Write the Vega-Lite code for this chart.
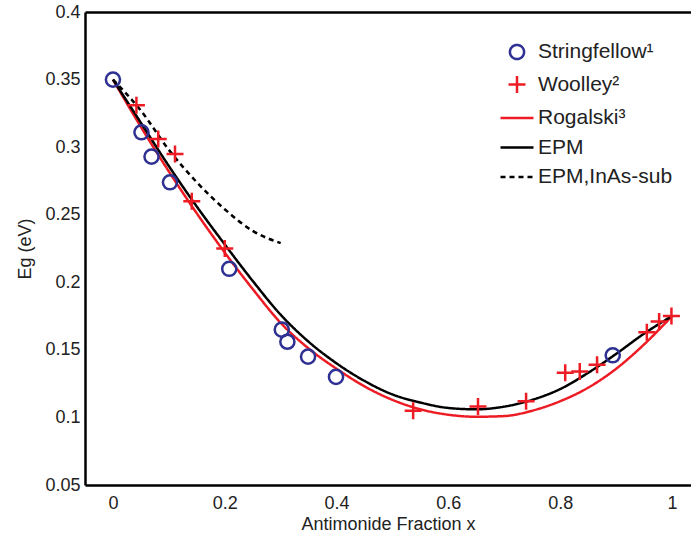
{
  "$schema": "https://vega.github.io/schema/vega-lite/v6.json",
  "width": 606,
  "height": 473,
  "autosize": {"type": "none"},
  "padding": {"left": 85, "top": 12, "right": 0, "bottom": 52},
  "background": "white",
  "config": {
    "view": {"stroke": null},
    "font": "Liberation Sans",
    "axis": {"grid": false, "domainColor": "black", "domainWidth": 2.5, "tickColor": "black", "tickWidth": 2, "tickSize": 0, "labelFont": "Liberation Sans", "labelFontSize": 18, "labelColor": "#222", "titleFont": "Liberation Sans", "titleFontSize": 18, "titleFontWeight": "normal", "titleColor": "#222", "labelOverlap": false, "labelBound": false}
  },
  "datasets": {
    "pts": [
      {"series": "Stringfellow¹", "x": 0, "y": 0.35},
      {"series": "Stringfellow¹", "x": 0.051, "y": 0.311},
      {"series": "Stringfellow¹", "x": 0.069, "y": 0.293},
      {"series": "Stringfellow¹", "x": 0.102, "y": 0.274},
      {"series": "Stringfellow¹", "x": 0.208, "y": 0.21},
      {"series": "Stringfellow¹", "x": 0.302, "y": 0.165},
      {"series": "Stringfellow¹", "x": 0.312, "y": 0.156},
      {"series": "Stringfellow¹", "x": 0.349, "y": 0.145},
      {"series": "Stringfellow¹", "x": 0.399, "y": 0.13},
      {"series": "Stringfellow¹", "x": 0.894, "y": 0.146},
      {"series": "Woolley²", "x": 0.042, "y": 0.331},
      {"series": "Woolley²", "x": 0.081, "y": 0.306},
      {"series": "Woolley²", "x": 0.111, "y": 0.295},
      {"series": "Woolley²", "x": 0.141, "y": 0.26},
      {"series": "Woolley²", "x": 0.2, "y": 0.225},
      {"series": "Woolley²", "x": 0.537, "y": 0.105},
      {"series": "Woolley²", "x": 0.653, "y": 0.108},
      {"series": "Woolley²", "x": 0.739, "y": 0.112},
      {"series": "Woolley²", "x": 0.809, "y": 0.133},
      {"series": "Woolley²", "x": 0.835, "y": 0.134},
      {"series": "Woolley²", "x": 0.866, "y": 0.139},
      {"series": "Woolley²", "x": 0.955, "y": 0.163},
      {"series": "Woolley²", "x": 0.977, "y": 0.171},
      {"series": "Woolley²", "x": 0.999, "y": 0.175}
    ],
    "curves": [
      {"series": "Rogalski³", "x": 0, "y": 0.35},
      {"series": "Rogalski³", "x": 0.05, "y": 0.315},
      {"series": "Rogalski³", "x": 0.1, "y": 0.282},
      {"series": "Rogalski³", "x": 0.15, "y": 0.251},
      {"series": "Rogalski³", "x": 0.2, "y": 0.222},
      {"series": "Rogalski³", "x": 0.25, "y": 0.195},
      {"series": "Rogalski³", "x": 0.3, "y": 0.17},
      {"series": "Rogalski³", "x": 0.35, "y": 0.151},
      {"series": "Rogalski³", "x": 0.4, "y": 0.136},
      {"series": "Rogalski³", "x": 0.45, "y": 0.123},
      {"series": "Rogalski³", "x": 0.5, "y": 0.113},
      {"series": "Rogalski³", "x": 0.55, "y": 0.106},
      {"series": "Rogalski³", "x": 0.6, "y": 0.102},
      {"series": "Rogalski³", "x": 0.65, "y": 0.1005},
      {"series": "Rogalski³", "x": 0.7, "y": 0.101},
      {"series": "Rogalski³", "x": 0.75, "y": 0.105},
      {"series": "Rogalski³", "x": 0.8, "y": 0.112},
      {"series": "Rogalski³", "x": 0.85, "y": 0.122},
      {"series": "Rogalski³", "x": 0.9, "y": 0.136},
      {"series": "Rogalski³", "x": 0.95, "y": 0.154},
      {"series": "Rogalski³", "x": 1.0, "y": 0.175},
      {"series": "EPM", "x": 0, "y": 0.35},
      {"series": "EPM", "x": 0.05, "y": 0.318},
      {"series": "EPM", "x": 0.1, "y": 0.286},
      {"series": "EPM", "x": 0.15, "y": 0.256},
      {"series": "EPM", "x": 0.2, "y": 0.228},
      {"series": "EPM", "x": 0.25, "y": 0.201},
      {"series": "EPM", "x": 0.3, "y": 0.176},
      {"series": "EPM", "x": 0.35, "y": 0.156},
      {"series": "EPM", "x": 0.4, "y": 0.14},
      {"series": "EPM", "x": 0.45, "y": 0.127},
      {"series": "EPM", "x": 0.5, "y": 0.117},
      {"series": "EPM", "x": 0.55, "y": 0.111},
      {"series": "EPM", "x": 0.6, "y": 0.107},
      {"series": "EPM", "x": 0.65, "y": 0.106},
      {"series": "EPM", "x": 0.7, "y": 0.108},
      {"series": "EPM", "x": 0.75, "y": 0.113},
      {"series": "EPM", "x": 0.8, "y": 0.121},
      {"series": "EPM", "x": 0.85, "y": 0.133},
      {"series": "EPM", "x": 0.9, "y": 0.147},
      {"series": "EPM", "x": 0.95, "y": 0.162},
      {"series": "EPM", "x": 1.0, "y": 0.175},
      {"series": "EPM,InAs-sub", "x": 0, "y": 0.35},
      {"series": "EPM,InAs-sub", "x": 0.05, "y": 0.327},
      {"series": "EPM,InAs-sub", "x": 0.1, "y": 0.298},
      {"series": "EPM,InAs-sub", "x": 0.15, "y": 0.274},
      {"series": "EPM,InAs-sub", "x": 0.2, "y": 0.254},
      {"series": "EPM,InAs-sub", "x": 0.25, "y": 0.238},
      {"series": "EPM,InAs-sub", "x": 0.3, "y": 0.229}
    ]
  },
  "encoding": {
    "x": {"field": "x", "type": "quantitative", "scale": {"domain": [-0.05, 1.034], "nice": false, "zero": false},
      "axis": {"orient": "bottom", "title": "Antimonide Fraction x", "values": [-0.04,0,0.04,0.08,0.12,0.16,0.2,0.24,0.28,0.32,0.36,0.4,0.44,0.48,0.52,0.56,0.6,0.64,0.68,0.72,0.76,0.8,0.84,0.88,0.92,0.96,1.0],
        "labelExpr": "round(datum.value*100)%20==0 ? format(datum.value,'~g') : ''",
        "labelPadding": 9, "titlePadding": 3,
        "encode": {"ticks": {"update": {"y2": {"signal": "round(datum.value*100)%20==0 ? -7 : -4"}}}}}},
    "y": {"field": "y", "type": "quantitative", "scale": {"domain": [0.05, 0.4], "nice": false, "zero": false},
      "axis": {"title": "Eg (eV)", "values": [0.05,0.06,0.07,0.08,0.09,0.1,0.11,0.12,0.13,0.14,0.15,0.16,0.17,0.18,0.19,0.2,0.21,0.22,0.23,0.24,0.25,0.26,0.27,0.28,0.29,0.3,0.31,0.32,0.33,0.34,0.35,0.36,0.37,0.38,0.39,0.4],
        "labelExpr": "round(datum.value*100)%5==0 ? format(datum.value,'.2~f') : ''",
        "labelPadding": 5, "titlePadding": 10,
        "encode": {"ticks": {"update": {"x2": {"signal": "round(datum.value*100)%5==0 ? 7 : 4"}}}}}},
    "color": {"field": "series", "type": "nominal",
      "scale": {"domain": ["Stringfellow¹", "Woolley²", "Rogalski³", "EPM", "EPM,InAs-sub"], "range": ["#2e3192", "#ed1c24", "#ed1c24", "#000000", "#000000"]},
      "legend": {"orient": "none", "legendX": 414, "legendY": 22, "title": null, "labelFontSize": 21, "labelFont": "Liberation Sans", "labelColor": "#222", "symbolStrokeWidth": 2.5, "symbolSize": 1089, "rowPadding": 1.5, "labelOffset": 3,
        "encode": {"symbols": {"update": {
          "shape": {"signal": "datum.value == 'Stringfellow¹' ? 'circle' : datum.value == 'Woolley²' ? 'M-1,0L1,0M0,-1L0,1' : 'stroke'"},
          "size": {"signal": "datum.value == 'Stringfellow¹' ? 200 : datum.value == 'Woolley²' ? 289 : 1089"},
          "strokeDash": {"signal": "datum.value == 'EPM,InAs-sub' ? [5,4] : [1,0]"},
          "fill": {"value": "transparent"},
          "strokeWidth": {"value": 2.5}
        }}}}}
  },
  "resolve": {"axis": {"x": "independent"}},
  "layer": [
    {
      "data": {"name": "curves"},
      "mark": {"type": "line", "strokeWidth": 2.5, "interpolate": "monotone"},
      "encoding": {
        "strokeDash": {"field": "series", "type": "nominal", "legend": null,
          "scale": {"domain": ["Rogalski³", "EPM", "EPM,InAs-sub"], "range": [[1,0],[1,0],[5,4]]}}
      }
    },
    {
      "data": {"name": "pts"},
      "transform": [{"filter": "datum.series == 'Stringfellow¹'"}],
      "mark": {"type": "point", "shape": "circle", "size": 200, "filled": false, "strokeWidth": 2.5, "opacity": 1},
      "encoding": {
        "x": {"field": "x", "type": "quantitative",
          "axis": {"orient": "top", "title": null, "labels": false, "values": [-0.04,0,0.04,0.08,0.12,0.16,0.2,0.24,0.28,0.32,0.36,0.4,0.44,0.48,0.52,0.56,0.6,0.64,0.68,0.72,0.76,0.8,0.84,0.88,0.92,0.96,1.0],
            "encode": {"ticks": {"update": {"y2": {"signal": "round(datum.value*100)%20==0 ? 7 : 4"}}}}}}
      }
    },
    {
      "data": {"name": "pts"},
      "transform": [{"filter": "datum.series == 'Woolley²'"}],
      "mark": {"type": "point", "shape": "M-1,0L1,0M0,-1L0,1", "size": 289, "filled": false, "strokeWidth": 2.5, "opacity": 1},
      "encoding": {
        "x": {"field": "x", "type": "quantitative", "axis": null}
      }
    }
  ]
}
